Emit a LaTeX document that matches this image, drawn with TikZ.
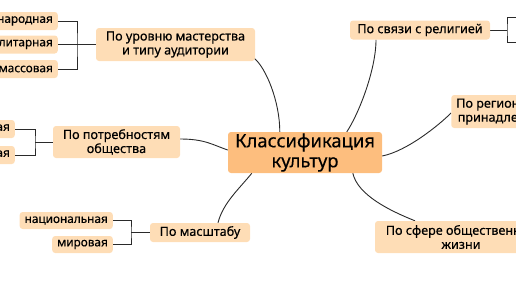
\documentclass[tikz,border=0pt]{standalone}
\usepackage{fontspec}
\setmainfont{Noto Sans}[FakeBold=0.35]
\usetikzlibrary{backgrounds}
\definecolor{cmain}{HTML}{FDBE7E}
\definecolor{csub}{HTML}{FEDDB6}
\definecolor{cline}{HTML}{2A2A2A}
\begin{document}
\begin{tikzpicture}[x=1pt,y=-1pt,
  subbox/.style={fill=csub, rounded corners=3pt, align=center, inner xsep=5pt, inner ysep=0pt,
    font=\fontsize{12.6}{14}\selectfont, text=black},
  leafbox/.style={subbox, minimum height=18pt, font=\fontsize{11.8}{13}\selectfont},
  mainbox/.style={fill=cmain, rounded corners=3pt, align=center, inner sep=0pt,
    font=\fontsize{18.4}{20}\selectfont, text=black},
  conn/.style={draw=cline, line width=0.9pt}]
\useasboundingbox (0,0) rectangle (516,290);
\clip (0,0) rectangle (516,290);
% central
\node[mainbox, minimum width=154pt, minimum height=41pt] (c) at (305,152.5) {Классификация\\культур};
% categories
\node[subbox, minimum width=159pt, minimum height=33pt] (p1) at (175.5,44.5) {По уровню мастерства\\и типу аудитории};
\node[subbox, minimum width=140pt, minimum height=19pt] (p2) at (420,30) {По связи с религией};
\node[subbox, minimum width=116pt, minimum height=33pt] (p3) at (510,111.5) {По региональной\\принадлежности};
\node[subbox, minimum width=127pt, minimum height=32pt] (p4) at (116.5,142) {По потребностям\\общества};
\node[subbox, minimum width=100pt, minimum height=19pt] (p5) at (200,232.5) {По масштабу};
\node[subbox, minimum width=172pt, minimum height=32pt] (p6) at (461,237) {По сфере общественной\\жизни};
% leaves
\node[leafbox, anchor=east] (l1) at (58,21) {народная};
\node[leafbox, anchor=east] (l2) at (58,44.5) {элитарная};
\node[leafbox, anchor=east] (l3) at (58,69) {массовая};
\node[leafbox, anchor=east] (l4) at (15,129) {материальная};
\node[leafbox, anchor=east] (l5) at (15,155) {духовная};
\node[leafbox, anchor=east, minimum height=17pt] (l6) at (113,220.5) {национальная};
\node[leafbox, anchor=east, minimum height=17pt] (l7) at (113,244.5) {мировая};
% bracket points
\coordinate (b1) at (77,44.5);
\coordinate (b2) at (507,30);
\coordinate (r1) at (530,17);
\coordinate (r2) at (530,42);
\coordinate (b4) at (35,142);
\coordinate (b5) at (131,232.5);
\begin{scope}[on background layer]
  \draw[conn] (l1.east) -| (b1) |- (l3.east);
  \draw[conn] (l2.east) -- (p1.west);
  \draw[conn] (r1) -| (b2) |- (r2);
  \draw[conn] (p2.east) -- (b2);
  \draw[conn] (l4.east) -| (b4) |- (l5.east);
  \draw[conn] (b4) -- (p4.west);
  \draw[conn] (l6.east) -| (b5) |- (l7.east);
  \draw[conn] (b5) -- (p5.west);
  % curves
  \draw[conn] ([xshift=-1pt,yshift=3pt]p1.south east) .. controls +(12,10) and +(0,-30) .. ([xshift=52pt]c.north west);
  \draw[conn] ([xshift=-44pt]p2.south) .. controls +(0,30) and +(12,-18) .. ([xshift=119pt]c.north west);
  \draw[conn] ([yshift=-1.5pt]p3.west) .. controls +(-12,12) and +(25,-5) .. ([yshift=-3.5pt]c.east);
  \draw[conn] ([yshift=3pt]p4.east) .. controls +(25,0) and +(-15,-5) .. ([yshift=2.5pt]c.west);
  \draw[conn] ([xshift=18pt]p5.north) .. controls +(5,-20) and +(-12,15) .. ([xshift=24pt]c.south west);
  \draw[conn] ([xshift=125pt]c.south west) .. controls +(5,22) and +(-25,-10) .. ([xshift=-46pt]p6.north);
\end{scope}
\end{tikzpicture}
\end{document}
